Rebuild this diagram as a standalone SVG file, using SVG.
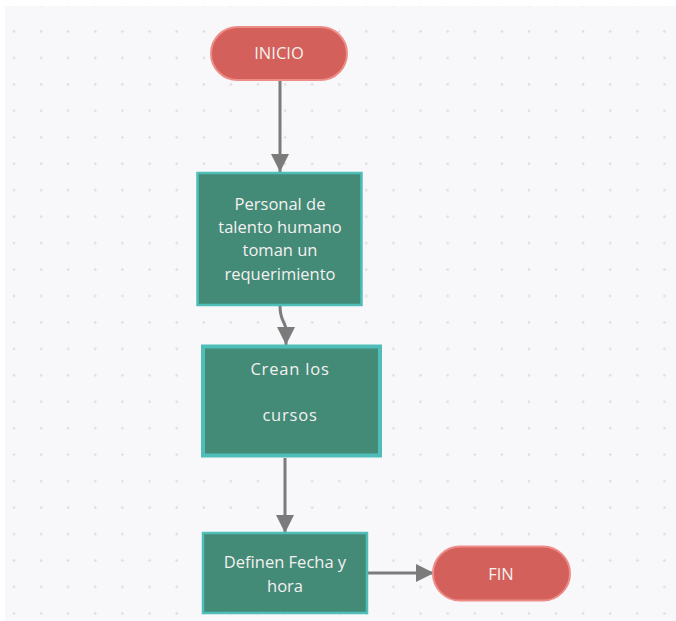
<svg xmlns="http://www.w3.org/2000/svg" width="676" height="621" viewBox="0 0 676 621">
  <defs>
    <pattern id="dots" x="0.5" y="-8.2" width="27.1" height="26.45" patternUnits="userSpaceOnUse">
      <circle cx="13.55" cy="13.2" r="1.3" fill="#dcdce0"/>
    </pattern>
    <marker id="arrow" viewBox="0 0 10 10" refX="10" refY="5" markerWidth="6" markerHeight="6" markerUnits="strokeWidth" orient="auto">
      <path d="M0 0 L10 5 L0 10 Z" fill="#7b7b7b"/>
    </marker>
  </defs>
  <style>
    .terminal { fill: #d3605a; stroke: #ee8d88; stroke-width: 2; }
    .process { fill: #438a77; stroke: #4fbeb9; stroke-width: 2.5; }
    .process-thick { fill: #438a77; stroke: #4fbeb9; stroke-width: 4; }
    .label { font-family: "Open Sans", "Noto Sans", sans-serif; font-size: 16.5px; font-weight: 500; fill: #f4f1f0; text-anchor: middle; }
    .label-spaced { font-family: "Open Sans", "Noto Sans", sans-serif; font-size: 16.5px; font-weight: 500; fill: #f4f1f0; text-anchor: middle; letter-spacing: 0.8px; }
    .edge { fill: none; stroke: #7b7b7b; stroke-width: 3; marker-end: url(#arrow); }
  </style>

  <!-- canvas -->
  <rect x="0" y="0" width="676" height="621" fill="#ffffff"/>
  <rect x="5" y="6" width="671" height="615" fill="#f8f8fa"/>
  <rect x="5" y="6" width="671" height="615" fill="url(#dots)"/>

  <!-- connectors -->
  <g id="connectors">
    <path class="edge" d="M280 81 L280 172"/>
    <path class="edge" d="M280 306 C280 322 286 322 286 330 L286 345"/>
    <path class="edge" d="M285 458 L285 533"/>
    <path class="edge" d="M367 573 L434 573"/>
  </g>

  <!-- start -->
  <g id="inicio">
    <rect class="terminal" x="211" y="27" width="136" height="53" rx="26.5"/>
    <text class="label" x="279" y="59">INICIO</text>
  </g>

  <!-- step 1 -->
  <g id="personal">
    <rect class="process" x="197.5" y="173" width="164" height="132"/>
    <text class="label" x="280" y="210">Personal de</text>
    <text class="label" x="280" y="233">talento humano</text>
    <text class="label" x="280" y="256">toman un</text>
    <text class="label" x="280" y="280">requerimiento</text>
  </g>

  <!-- step 2 -->
  <g id="crean">
    <rect class="process-thick" x="203" y="346.5" width="177" height="109"/>
    <text class="label-spaced" x="290" y="375">Crean los</text>
    <text class="label-spaced" x="290" y="421">cursos</text>
  </g>

  <!-- step 3 -->
  <g id="definen">
    <rect class="process" x="203" y="533" width="164" height="80"/>
    <text class="label" x="285" y="568">Definen Fecha y</text>
    <text class="label" x="285" y="592">hora</text>
  </g>

  <!-- end -->
  <g id="fin">
    <rect class="terminal" x="433" y="546.5" width="137" height="54" rx="27"/>
    <text class="label" x="501" y="580">FIN</text>
  </g>
</svg>
